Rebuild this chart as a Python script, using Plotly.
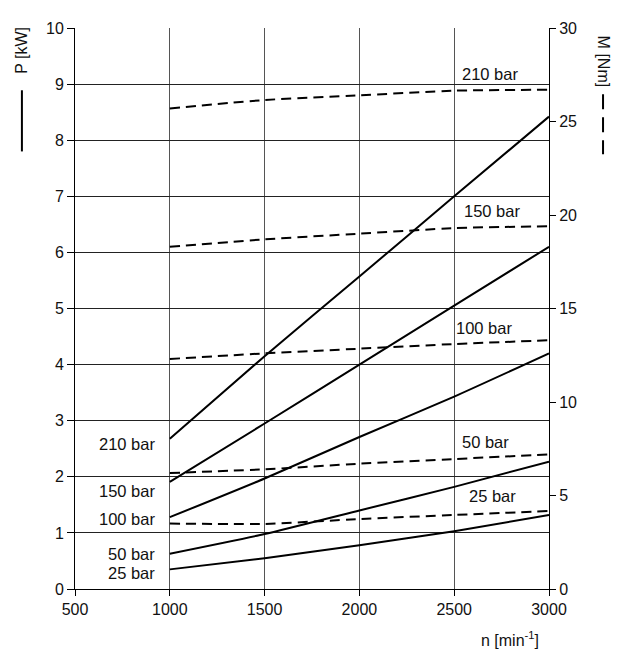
import plotly.graph_objects as go

# speed n [min^-1]
n = [1000, 1500, 2000, 2500, 3000]
pressures = ["210 bar", "150 bar", "100 bar", "50 bar", "25 bar"]

# Power P [kW] (solid lines)
P_210 = [2.68, 4.15, 5.57, 7.00, 8.42]
P_150 = [1.91, 2.95, 4.00, 5.05, 6.10]
P_100 = [1.28, 1.97, 2.71, 3.43, 4.20]
P_50 = [0.63, 0.98, 1.40, 1.82, 2.27]
P_25 = [0.35, 0.55, 0.78, 1.03, 1.32]

# Torque M [Nm] (dashed lines)
M_210 = [25.7, 26.15, 26.4, 26.65, 26.7]
M_150 = [18.3, 18.7, 19.0, 19.3, 19.4]
M_100 = [12.3, 12.6, 12.85, 13.1, 13.3]
M_50 = [6.2, 6.4, 6.7, 6.95, 7.2]
M_25 = [3.5, 3.48, 3.74, 3.96, 4.17]

# label positions: (n, P)
left_label_n = [930, 930, 930, 930, 930]
left_label_P = [2.59, 1.75, 1.24, 0.63, 0.28]
right_label_n = [2689, 2697, 2658, 2667, 2700]
right_label_P = [9.18, 6.73, 4.65, 2.62, 1.66]

P_series = [P_210, P_150, P_100, P_50, P_25]
M_series = [M_210, M_150, M_100, M_50, M_25]

FONT = "Liberation Sans, Arial, sans-serif"
TXT = "#111"

fig = go.Figure()
for name, vals in zip(pressures, P_series):
    fig.add_trace(go.Scatter(x=n, y=vals, mode="lines", name="P " + name,
                             line=dict(color="black", width=2, shape="spline", smoothing=0.5),
                             yaxis="y"))
for name, vals in zip(pressures, M_series):
    fig.add_trace(go.Scatter(x=n, y=vals, mode="lines", name="M " + name,
                             line=dict(color="black", width=2, dash="10px,6px", shape="spline", smoothing=0.5),
                             yaxis="y2"))

for lab, xv, yv in zip(pressures, left_label_n, left_label_P):
    fig.add_annotation(x=xv, y=yv, xref="x", yref="y", text=lab, showarrow=False,
                       xanchor="right", yanchor="middle", font=dict(size=16.5, color=TXT, family=FONT))
for lab, xv, yv in zip(pressures, right_label_n, right_label_P):
    fig.add_annotation(x=xv, y=yv, xref="x", yref="y", text=lab, showarrow=False,
                       xanchor="center", yanchor="middle", font=dict(size=16.5, color=TXT, family=FONT))

# axis titles with line-style keys
fig.add_annotation(x=-0.112, y=0.961, xref="paper", yref="paper", text="P [kW]", textangle=-90,
                   xanchor="center", yanchor="middle",
                   showarrow=False, font=dict(size=16, color=TXT, family=FONT))
fig.add_shape(type="line", xref="paper", yref="paper", x0=-0.112, x1=-0.112, y0=0.889, y1=0.780,
              line=dict(color="black", width=2))
fig.add_annotation(x=1.114, y=0.940, xref="paper", yref="paper", text="M [Nm]", textangle=90,
                   xanchor="center", yanchor="middle",
                   showarrow=False, font=dict(size=16, color=TXT, family=FONT))
fig.add_shape(type="line", xref="paper", yref="paper", x0=1.114, x1=1.114, y0=0.882, y1=0.775,
              line=dict(color="black", width=2, dash="15px,8px"))
fig.add_annotation(x=0.918, y=-0.0896, xref="paper", yref="paper", text="n [min<sup>-1</sup>]",
                   xanchor="center", yanchor="middle",
                   showarrow=False, font=dict(size=16, color=TXT, family=FONT))

fig.update_layout(
    width=624, height=650,
    margin=dict(l=67, r=83, t=12, b=69),
    paper_bgcolor="white", plot_bgcolor="white",
    showlegend=False,
    font=dict(family=FONT, size=16, color=TXT),
    xaxis=dict(range=[500, 3000], tickvals=[500, 1000, 1500, 2000, 2500, 3000],
               showgrid=True, gridcolor="#555", gridwidth=1,
               showline=True, linecolor="black", linewidth=1,
               ticks="outside", ticklen=6, tickcolor="black",
               zeroline=False,
               tickfont=dict(size=16)),
    yaxis=dict(range=[0, 10], dtick=1, showgrid=True, gridcolor="#222", gridwidth=1,
               showline=True, linecolor="black", linewidth=1,
               ticks="outside", ticklen=7, tickcolor="black", zeroline=False,
               tickfont=dict(size=16)),
    yaxis2=dict(range=[0, 30], dtick=5, overlaying="y", side="right", showgrid=False,
                showline=True, linecolor="black", linewidth=1,
                ticks="outside", ticklen=6, tickcolor="black", zeroline=False,
                tickfont=dict(size=16)),
)

fig.write_html("out.html")
